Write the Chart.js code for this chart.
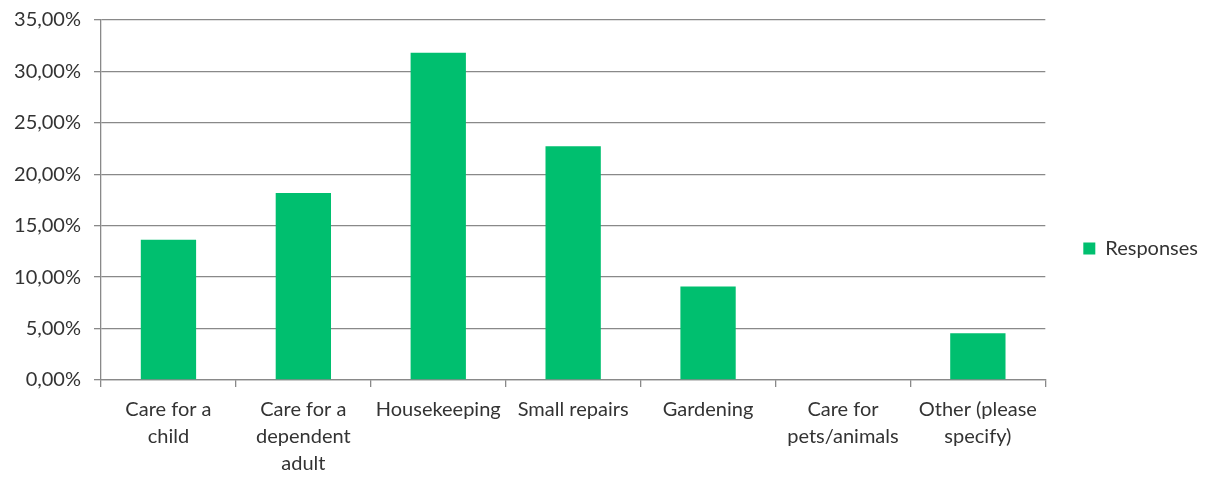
<!DOCTYPE html>
<html>
<head>
<meta charset="utf-8">
<script src="https://cdn.jsdelivr.net/npm/chart.js@4/dist/chart.umd.min.js"></script>
<style>
  html, body { margin: 0; padding: 0; background: #fff; }
  #wrap { width: 1210px; height: 477px; }
</style>
</head>
<body>
<div id="wrap"><canvas id="chart"></canvas></div>
<script>
// categories (multi-line labels) and their response share in %
const CATEGORIES = [
  ["Care for a", "child"],
  ["Care for a", "dependent", "adult"],
  "Housekeeping",
  "Small repairs",
  "Gardening",
  ["Care for", "pets/animals"],
  ["Other (please", "specify)"]
];
const RESPONSES = [13.64, 18.18, 31.82, 22.73, 9.09, 0, 4.55];
const SERIES_NAME = "Responses";

const Y_MIN = 0;
const Y_MAX = 35;
const Y_STEP = 5;

const GREEN = "#00BF6F";
const AXIS_GREY = "#898989";
const TEXT = "#333333";
const FONT = { family: "Lato, 'Open Sans', sans-serif", size: 20, lineHeight: 1.35 };

function formatPercent(v) {
  return v.toFixed(2).replace(".", ",") + "%";
}

new Chart(document.getElementById("chart"), {
  type: "bar",
  data: {
    labels: CATEGORIES,
    datasets: [{
      label: SERIES_NAME,
      data: RESPONSES,
      backgroundColor: GREEN,
      categoryPercentage: 1,
      barPercentage: 0.41
    }]
  },
  options: {
    responsive: true,
    maintainAspectRatio: false,
    animation: false,
    layout: { padding: { top: 20, right: 2, left: 0, bottom: 0 } },
    plugins: {
      tooltip: { enabled: false },
      legend: {
        position: "right",
        labels: {
          boxWidth: 12,
          boxHeight: 12,
          padding: 38,
          color: TEXT,
          font: FONT
        }
      }
    },
    scales: {
      x: {
        afterFit: (scale) => { scale.height = 97; },
        grid: {
          drawOnChartArea: false,
          drawTicks: true,
          tickLength: 7,
          color: AXIS_GREY,
          lineWidth: 1.3
        },
        border: { color: AXIS_GREY, width: 1.3 },
        ticks: {
          color: TEXT,
          font: FONT,
          padding: 9,
          maxRotation: 0,
          autoSkip: false
        }
      },
      y: {
        min: Y_MIN,
        max: Y_MAX,
        afterFit: (scale) => {
          scale.width = 101;
          scale.paddingTop = 0;
          scale.paddingBottom = 0;
        },
        grid: {
          color: AXIS_GREY,
          lineWidth: 1.3,
          tickLength: 7
        },
        border: { color: AXIS_GREY, width: 1.3 },
        ticks: {
          stepSize: Y_STEP,
          color: TEXT,
          font: FONT,
          padding: 13,
          callback: (v) => formatPercent(v)
        }
      }
    }
  }
});
</script>
</body>
</html>
